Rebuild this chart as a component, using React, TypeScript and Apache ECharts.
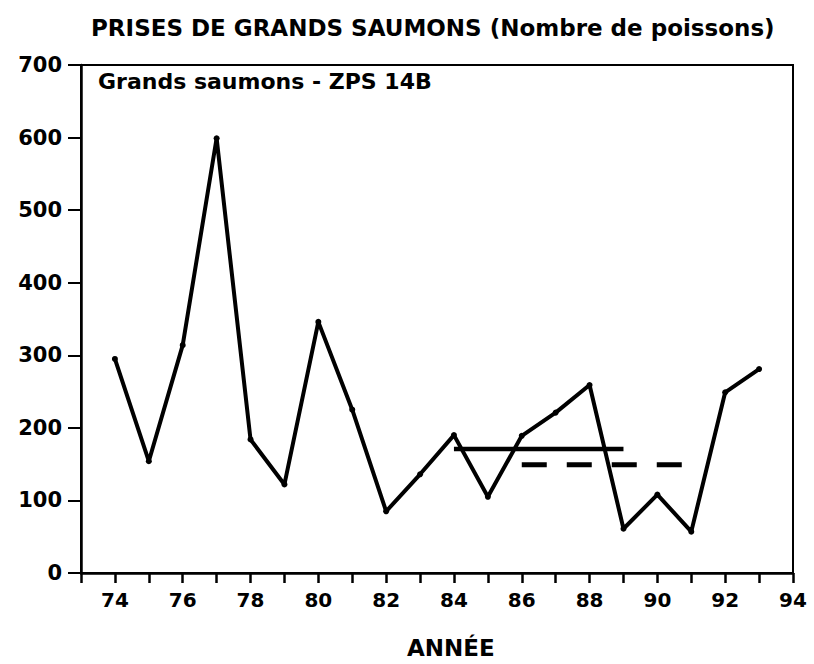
import React, { useEffect, useRef } from "react";
import * as echarts from "echarts";

const years = [74, 75, 76, 77, 78, 79, 80, 81, 82, 83, 84, 85, 86, 87, 88, 89, 90, 91, 92, 93];
const catches = [295, 154, 314, 599, 184, 122, 346, 225, 85, 136, 190, 105, 189, 221, 259, 61, 108, 57, 249, 281];
const meanSolidYears = [84, 89];
const meanSolidValue = 171;
const meanDashedYears = [86, 91];
const meanDashedValue = 149;

const titleText = "PRISES DE GRANDS SAUMONS (Nombre de poissons)";
const subtitleText = "Grands saumons - ZPS 14B";
const xAxisName = "ANNÉE";

const TITLE_FONT = "'DejaVu Sans', 'Liberation Sans', Arial, sans-serif";

export default function App() {
  const ref = useRef<HTMLDivElement>(null);

  useEffect(() => {
    document.body.style.margin = "0";
    if (!ref.current) return;
    const chart = echarts.init(ref.current, undefined, { renderer: "svg" });

    const mainData = years.map((y, i) => [y, catches[i]]);
    const solidData = meanSolidYears.map((y) => [y, meanSolidValue]);
    const dashedData = meanDashedYears.map((y) => [y, meanDashedValue]);

    chart.setOption({
      animation: false,
      backgroundColor: "#ffffff",
      grid: {
        left: 81,
        right: 21,
        top: 65,
        bottom: 91,
        show: true,
        borderColor: "#000",
        borderWidth: 2,
        backgroundColor: "transparent",
      },
      graphic: [
        {
          type: "text",
          left: 91,
          top: 16,
          style: {
            text: titleText,
            fontFamily: TITLE_FONT,
            fontWeight: "bold",
            fontSize: 23,
            fill: "#000",
          },
        },
        {
          type: "text",
          left: 98,
          top: 70,
          style: {
            text: subtitleText,
            fontFamily: TITLE_FONT,
            fontWeight: "bold",
            fontSize: 22,
            fill: "#000",
          },
        },
        {
          type: "text",
          left: 407,
          top: 636,
          style: {
            text: xAxisName,
            fontFamily: TITLE_FONT,
            fontWeight: "bold",
            fontSize: 23,
            fill: "#000",
          },
        },
      ],
      xAxis: {
        type: "value",
        min: 73,
        max: 94,
        interval: 1,
        axisLine: { show: true, lineStyle: { color: "#000", width: 2.5 } },
        axisTick: {
          show: true,
          length: 10,
          lineStyle: { color: "#000", width: 2.5 },
        },
        axisLabel: {
          margin: 17,
          fontFamily: TITLE_FONT,
          fontWeight: "bold",
          fontSize: 20,
          color: "#000",
          formatter: (v: number) => (v >= 74 && v % 2 === 0 ? String(v) : ""),
        },
        splitLine: { show: false },
      },
      yAxis: {
        type: "value",
        min: 0,
        max: 700,
        interval: 100,
        axisLine: { show: true, lineStyle: { color: "#000", width: 2.5 } },
        axisTick: {
          show: true,
          length: 13,
          lineStyle: { color: "#000", width: 2 },
        },
        axisLabel: {
          margin: 19,
          fontFamily: TITLE_FONT,
          fontWeight: "bold",
          fontSize: 21,
          color: "#000",
        },
        splitLine: { show: false },
      },
      series: [
        {
          type: "line",
          data: mainData,
          symbol: "circle",
          symbolSize: 6,
          itemStyle: { color: "#000" },
          lineStyle: { color: "#000", width: 4 },
          z: 3,
        },
        {
          type: "line",
          data: solidData,
          symbol: "none",
          lineStyle: { color: "#000", width: 4.5 },
          z: 2,
        },
        {
          type: "line",
          data: dashedData,
          symbol: "none",
          lineStyle: { color: "#000", width: 5, type: [25, 20] },
          z: 2,
        },
      ],
    });

    return () => chart.dispose();
  }, []);

  return <div ref={ref} style={{ width: 814, height: 664 }} />;
}
